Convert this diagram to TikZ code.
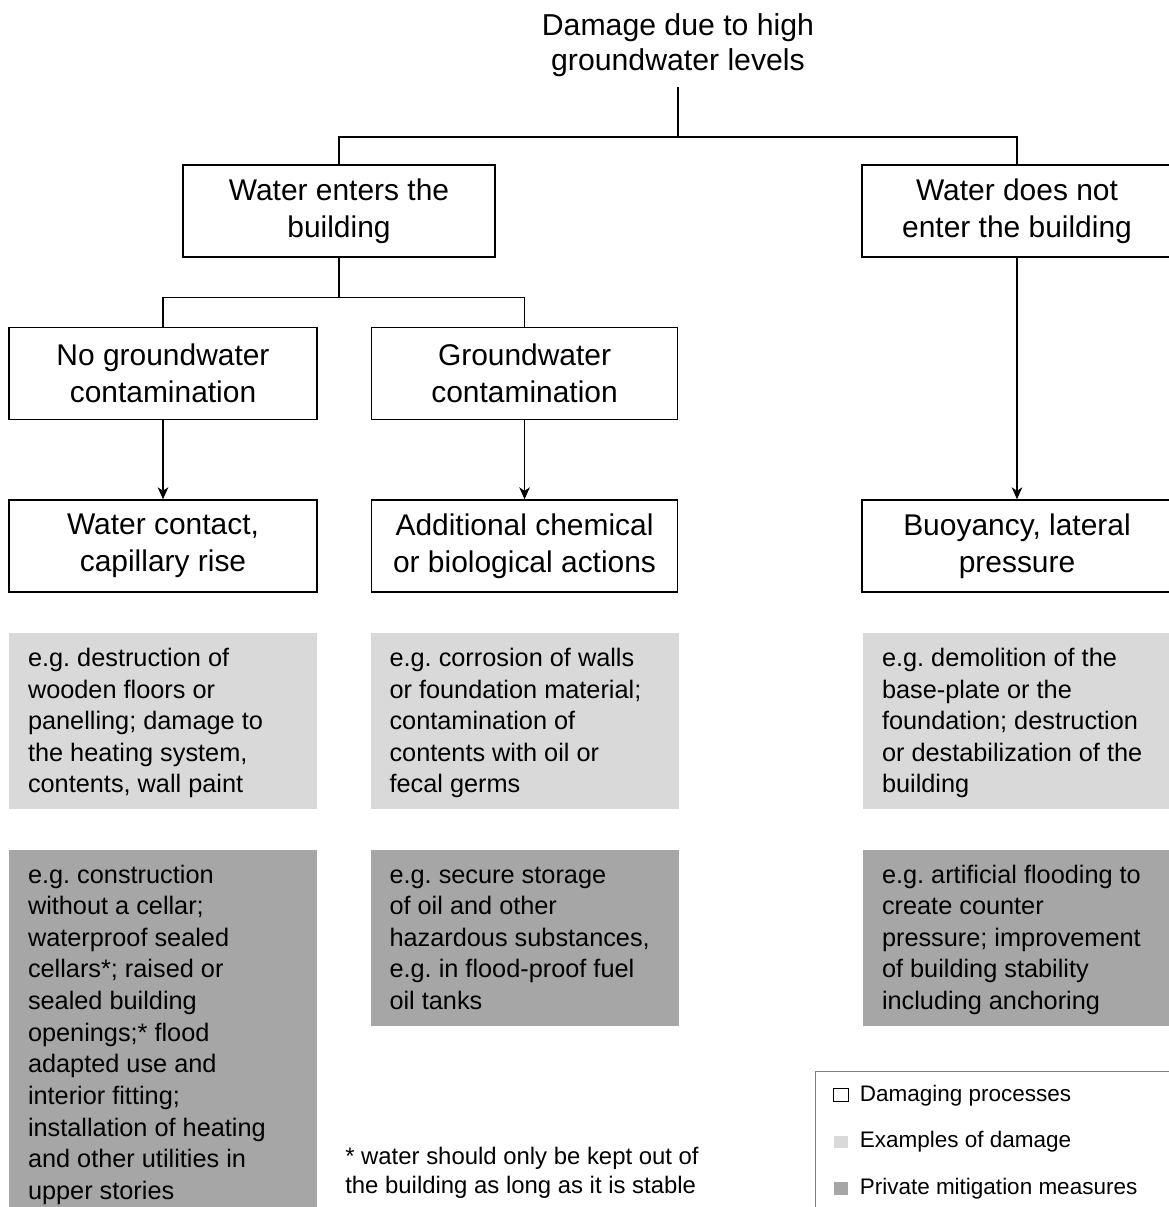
\documentclass[tikz,border=0pt]{standalone}
\usepackage{fontspec}
\setmainfont{Liberation Sans}
\usepackage{xcolor}
\usetikzlibrary{arrows.meta, positioning}
\definecolor{gw-light}{RGB}{217, 217, 217}
\definecolor{gw-dark}{RGB}{166, 166, 166}
\definecolor{gw-frame}{RGB}{128, 128, 128}
\newcommand{\gwtext}[2]{\parbox[c][#1][t]{6.75cm}{\raggedright\vphantom{d}#2}}
\frenchspacing

\begin{document}
\begin{tikzpicture}[
    procbox/.style={rectangle, draw, line width=1.1pt,
                    minimum width=7.7cm, minimum height=2.3cm,
                    align=center, font=\fontsize{21.3pt}{26.5pt}\selectfont},
    exbox/.style={rectangle, fill=gw-light, inner xsep=0.475cm, inner ysep=0.375cm,
                  font=\fontsize{18pt}{22.5pt}\selectfont},
    mitbox/.style={exbox, fill=gw-dark},
    link/.style={line width=0.9pt},
    arr/.style={link, -{Stealth[length=8.5pt, width=7.5pt, inset=2.5pt]}},
    keybox/.style={rectangle, minimum width=0.36cm, minimum height=0.32cm, inner sep=0},
    keytxt/.style={inner sep=0, font=\fontsize{16pt}{19pt}\selectfont},
    node distance=1cm
  ]
    \useasboundingbox (0,0) rectangle (29.2,-30.175);

    \node[anchor=south, inner sep=0.25cm, align=center,
          font=\fontsize{21.5pt}{25pt}\selectfont] (title) at (16.95,-2.175)
          {Damage due to high\\groundwater levels};

    \node[procbox, minimum width=7.8cm]  (enter)    at (8.475,-5.275)  {Water enters the\\building};
    \node[procbox, minimum width=7.75cm] (notenter) at (25.425,-5.275) {Water does not\\enter the building};

    \node[procbox] (nocont) at (4.075,-9.3375) {No groundwater\\contamination};
    \node[procbox, minimum width=7.65cm, right=1.325cm of nocont] (cont) {Groundwater\\contamination};

    \node[procbox, below=1.975cm of nocont] (contact) {Water contact,\\capillary rise};
    \node[procbox, minimum width=7.65cm, below=1.975cm of cont] (chem) {Additional chemical\\or biological actions};
    \node[procbox, minimum width=7.75cm] (buoy) at (notenter |- chem) {Buoyancy, lateral\\pressure};

    \coordinate[below=1.25cm of title] (jtop);
    \coordinate[below=1.0cm of enter]  (jmid);

    \draw[link] (title) -- (jtop);
    \draw[link] (enter.north) |- (jtop) -| (notenter.north);
    \draw[link] (enter) -- (jmid);
    \draw[link] (nocont.north) |- (jmid) -| (cont.north);
    \draw[arr] (nocont) -- (contact);
    \draw[arr] (cont) -- (chem);
    \draw[arr] (notenter) -- (buoy);

    % examples of damage
    \node[exbox, below=of contact] (exL) {\gwtext{3.65cm}{e.g. destruction of\\wooden floors or\\panelling; damage to\\the heating system,\\contents, wall paint}};
    \node[exbox, below=of chem] (exM) {\gwtext{3.65cm}{e.g. corrosion of walls\\or foundation material;\\contamination of\\contents with oil or\\fecal germs}};
    \node[exbox, below=of buoy] (exR) {\gwtext{3.65cm}{e.g. demolition of the\\base-plate or the\\foundation; destruction\\or destabilization of the\\building}};

    % private mitigation measures
    \node[mitbox, below=of exL] (mitL) {\gwtext{8.55cm}{e.g. construction\\without a cellar;\\waterproof sealed\\cellars*; raised or\\sealed building\\openings;* flood\\adapted use and\\interior fitting;\\installation of heating\\and other utilities in\\upper stories}};
    \node[mitbox, below=of exM] (mitM) {\gwtext{3.65cm}{e.g. secure storage\\of oil and other\\hazardous substances,\\e.g. in flood-proof fuel\\oil tanks}};
    \node[mitbox, below=of exR] (mitR) {\gwtext{3.65cm}{e.g. artificial flooding to\\create counter\\pressure; improvement\\of building stability\\including anchoring}};

    \node[anchor=north west, inner sep=0, align=left,
          font=\fontsize{17pt}{21.3pt}\selectfont] (note) at (8.625,-28.66)
          {* water should only be kept out of\\the building as long as it is stable};

    % legend
    \node[draw=gw-frame, line width=0.8pt, minimum width=9cm, minimum height=3.7cm,
          anchor=north west, inner sep=0] (legend) at (20.375,-26.775) {};
    \node[keybox, draw=black, line width=0.6pt, fill=white] (kA) at (21.025,-27.38) {};
    \node[keybox, fill=gw-light, below=0.83cm of kA] (kB) {};
    \node[keybox, fill=gw-dark,  below=0.83cm of kB] (kC) {};
    \node[keytxt, right=0.275cm of kA] (tA) {Damaging processes};
    \node[keytxt, right=0.275cm of kB] (tB) {Examples of damage};
    \node[keytxt, right=0.275cm of kC] (tC) {Private mitigation measures};
  \end{tikzpicture}
\end{document}
